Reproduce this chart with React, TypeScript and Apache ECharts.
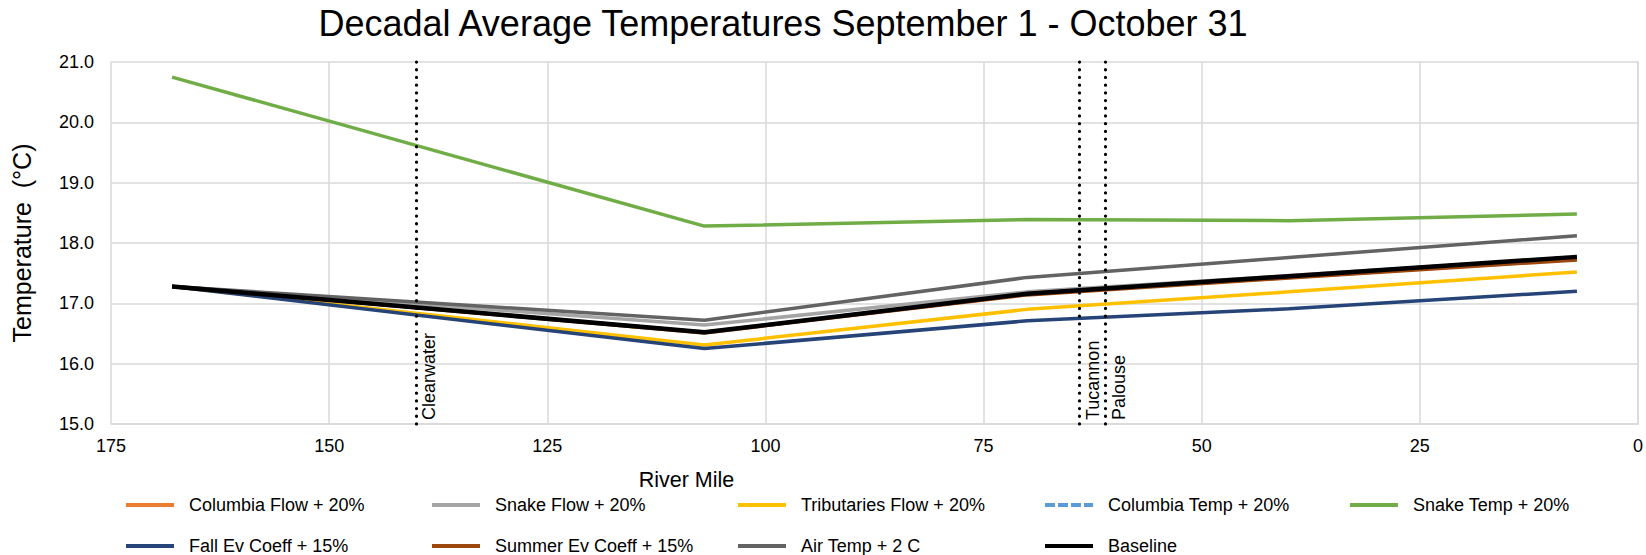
import React, { useEffect, useRef } from "react";
import * as echarts from "echarts";

const riverMiles = [168, 107, 70, 40, 7];

const columbiaFlow = [17.28, 16.52, 17.15, 17.43, 17.73];
const snakeFlow = [17.28, 16.64, 17.19, 17.46, 17.76];
const tributariesFlow = [17.28, 16.31, 16.9, 17.19, 17.52];
const columbiaTemp = [17.28, 16.52, 17.16, 17.45, 17.77];
const snakeTemp = [20.75, 18.28, 18.39, 18.37, 18.48];
const fallEvCoeff = [17.28, 16.25, 16.71, 16.91, 17.2];
const summerEvCoeff = [17.28, 16.51, 17.14, 17.42, 17.72];
const airTemp = [17.28, 16.72, 17.43, 17.76, 18.12];
const baseline = [17.28, 16.52, 17.16, 17.45, 17.77];

const tributaryNames = ["Clearwater", "Tucannon", "Palouse"];
const tributaryMiles = [140, 64, 61];

const yTicks = [15, 16, 17, 18, 19, 20, 21];
const xTicks = [0, 25, 50, 75, 100, 125, 150, 175];

const FONT = "'Liberation Sans', Arial, sans-serif";

const seriesDefs = [
  { name: "Columbia Flow + 20%", values: columbiaFlow, color: "#ED7D31", width: 3.5, type: "solid" },
  { name: "Snake Flow + 20%", values: snakeFlow, color: "#A5A5A5", width: 3.5, type: "solid" },
  { name: "Tributaries Flow + 20%", values: tributariesFlow, color: "#FFC000", width: 3.5, type: "solid" },
  { name: "Columbia Temp + 20%", values: columbiaTemp, color: "#5B9BD5", width: 3.5, type: "dashed" },
  { name: "Snake Temp + 20%", values: snakeTemp, color: "#70AD47", width: 3.5, type: "solid" },
  { name: "Fall Ev Coeff + 15%", values: fallEvCoeff, color: "#264478", width: 3.5, type: "solid" },
  { name: "Summer Ev Coeff + 15%", values: summerEvCoeff, color: "#9E480E", width: 3.5, type: "solid" },
  { name: "Air Temp + 2 C", values: airTemp, color: "#636363", width: 3.5, type: "solid" },
  { name: "Baseline", values: baseline, color: "#000000", width: 4.5, type: "solid" },
];

const legendColumns = [
  ["Columbia Flow + 20%", "Fall Ev Coeff + 15%"],
  ["Snake Flow + 20%", "Summer Ev Coeff + 15%"],
  ["Tributaries Flow + 20%", "Air Temp + 2 C"],
  ["Columbia Temp + 20%", "Baseline"],
  ["Snake Temp + 20%"],
];
const legendLefts = [121, 427, 733, 1040, 1345];

const SOLID_ICON = "path://M0,0h48v4h-48z";
const DASH_ICON = "path://M0,0h10v4h-10zM13,0h10v4h-10zM26,0h10v4h-10zM39,0h9v4h-9z";

export default function App() {
  const ref = useRef<HTMLDivElement>(null);
  useEffect(() => {
    if (!ref.current) return;
    const chart = echarts.init(ref.current, null, { renderer: "svg" });
    const series: any[] = seriesDefs.map((d) => ({
      name: d.name,
      type: "line",
      symbol: "none",
      showSymbol: false,
      data: riverMiles.map((m, i) => [m, d.values[i]]),
      lineStyle: { color: d.color, width: d.width, type: d.type },
      itemStyle: { color: d.color },
      z: 3,
    }));
    series.push({
      name: "tributaries",
      type: "line",
      data: [],
      silent: true,
      markLine: {
        silent: true,
        symbol: "none",
        lineStyle: { color: "#000", width: 3.2, type: [0.1, 7.6], cap: "round" },
        label: {
          show: true,
          position: "insideStartBottom",
          formatter: "{b}",
          fontSize: 18,
          fontFamily: FONT,
          color: "#000",
          distance: [4, 4],
        },
        data: tributaryMiles.map((m, i) => ({ name: tributaryNames[i], xAxis: m })),
      },
      z: 2,
    });

    const dashedNames = seriesDefs.filter((d) => d.type === "dashed").map((d) => d.name);

    chart.setOption({
      animation: false,
      backgroundColor: "#fff",
      title: {
        text: "Decadal Average Temperatures September 1 - October 31",
        left: 778,
        top: 0,
        textAlign: "center",
        textStyle: { fontSize: 36, fontWeight: "normal", fontFamily: FONT, color: "#000" },
      },
      grid: { left: 111, right: 7, top: 62, bottom: 131 },
      xAxis: {
        type: "value",
        inverse: true,
        min: xTicks[0],
        max: xTicks[xTicks.length - 1],
        interval: 25,
        name: "River Mile",
        nameLocation: "middle",
        nameGap: 45,
        nameTextStyle: { fontSize: 21.5, fontFamily: FONT, color: "#000", padding: [0, 376, 0, 0] },
        axisLine: { show: true, lineStyle: { color: "#D9D9D9", width: 1.5 } },
        axisTick: { show: false },
        axisLabel: { fontSize: 18, fontFamily: FONT, color: "#000", margin: 13 },
        splitLine: { show: true, lineStyle: { color: "#D9D9D9", width: 1.5 } },
      },
      yAxis: {
        type: "value",
        min: yTicks[0],
        max: yTicks[yTicks.length - 1],
        interval: 1,
        name: "Temperature  (°C)",
        nameLocation: "middle",
        nameGap: 77,
        nameTextStyle: { fontSize: 25, fontFamily: FONT, color: "#000" },
        axisLine: { show: true, lineStyle: { color: "#D9D9D9", width: 1.5 } },
        axisTick: { show: false },
        axisLabel: {
          fontSize: 18,
          fontFamily: FONT,
          color: "#000",
          margin: 17,
          formatter: (v: number) => v.toFixed(1),
        },
        splitLine: { show: true, lineStyle: { color: "#D9D9D9", width: 1.5 } },
      },
      legend: legendColumns.map((names, i) => ({
        data: names.map((n) => ({ name: n, icon: dashedNames.includes(n) ? DASH_ICON : SOLID_ICON })),
        orient: "vertical",
        left: legendLefts[i],
        top: 490,
        height: 90,
        itemGap: 21,
        itemWidth: 48,
        itemHeight: 4,
        selectedMode: false,
        textStyle: { fontSize: 18, lineHeight: 20, fontFamily: FONT, color: "#000", padding: [0, 0, 0, 10] },
      })),
      series,
    });
    return () => chart.dispose();
  }, []);
  return (
    <div
      ref={ref}
      style={{ position: "absolute", left: 0, top: 0, width: 1646, height: 555 }}
    />
  );
}
